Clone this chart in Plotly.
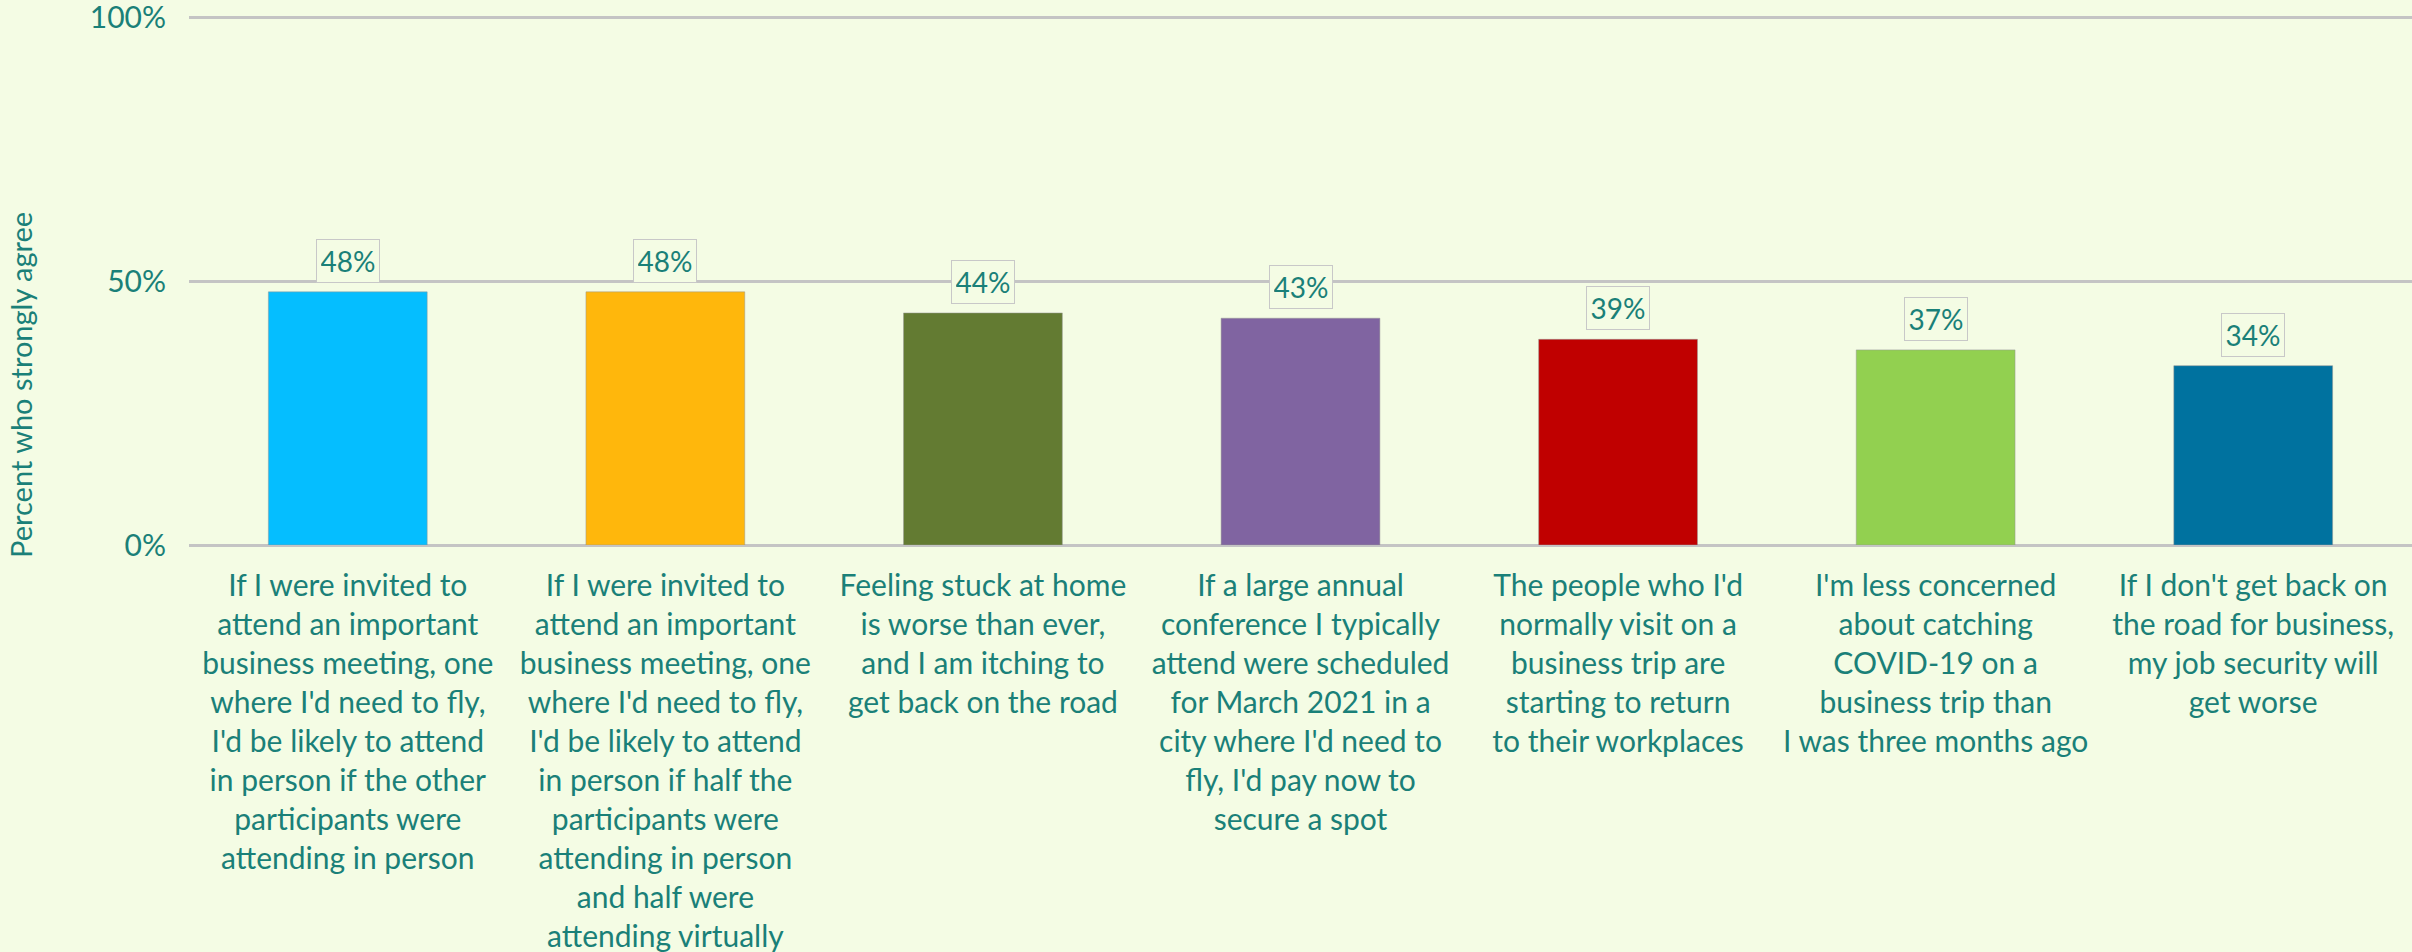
import plotly.graph_objects as go

categories = [
    "If I were invited to<br>attend an important<br>business meeting, one<br>where I'd need to fly,<br>I'd be likely to attend<br>in person if the other<br>participants were<br>attending in person",
    "If I were invited to<br>attend an important<br>business meeting, one<br>where I'd need to fly,<br>I'd be likely to attend<br>in person if half the<br>participants were<br>attending in person<br>and half were<br>attending virtually",
    "Feeling stuck at home<br>is worse than ever,<br>and I am itching to<br>get back on the road",
    "If a large annual<br>conference I typically<br>attend were scheduled<br>for March 2021 in a<br>city where I'd need to<br>fly, I'd pay now to<br>secure a spot",
    "The people who I'd<br>normally visit on a<br>business trip are<br>starting to return<br>to their workplaces",
    "I'm less concerned<br>about catching<br>COVID-19 on a<br>business trip than<br>I was three months ago",
    "If I don't get back on<br>the road for business,<br>my job security will<br>get worse",
]
values = [0.48, 0.48, 0.44, 0.43, 0.39, 0.37, 0.34]
bar_colors = ["#05BEFF", "#FFB70C", "#637B32", "#8064A1", "#C00000", "#92D050", "#00729F"]
y_ticks = [0, 0.5, 1.0]
y_tick_labels = ["0%", "50%", "100%"]
y_title = "Percent who strongly agree"

TEXT = "#1A8078"
BG = "#F4FCE4"
FONT = "Lato"

fig = go.Figure()
fig.add_trace(go.Bar(
    x=list(range(len(categories))),
    y=values,
    marker=dict(color=bar_colors, line=dict(color="rgba(150,150,150,0.5)", width=1)),
    width=0.5,
    hoverinfo="skip",
))

for i, v in enumerate(values):
    fig.add_annotation(
        x=i, y=v, xref="x", yref="y",
        text=f"{round(v*100)}%",
        showarrow=False, yanchor="bottom", yshift=9,
        font=dict(family=FONT, size=28, color=TEXT),
        bgcolor=BG, bordercolor="#C8C8C8", borderwidth=1, borderpad=4,
        width=54, height=34,
    )

fig.add_annotation(
    xref="paper", yref="paper", x=-0.0756, y=0.302,
    text=y_title, textangle=-90, showarrow=False,
    font=dict(family=FONT, size=29, color=TEXT),
    xanchor="center", yanchor="middle",
)

fig.update_layout(
    width=2412, height=952,
    paper_bgcolor=BG, plot_bgcolor=BG,
    margin=dict(l=189, r=0, t=15, b=407),
    showlegend=False,
    bargap=0.5,
    font=dict(family=FONT, color=TEXT),
)
fig.update_xaxes(
    range=[-0.5, len(categories) - 0.5],
    tickmode="array",
    tickvals=list(range(len(categories))),
    ticktext=categories,
    tickangle=0,
    tickfont=dict(family=FONT, size=30, color=TEXT),
    ticklabelstandoff=20,
    showgrid=False, showline=False, zeroline=False,
    automargin=False,
)
fig.update_yaxes(
    range=[0, 1.005],
    tickmode="array",
    tickvals=y_ticks,
    ticktext=y_tick_labels,
    tickfont=dict(family=FONT, size=30, color=TEXT),
    ticklabelstandoff=22,
    ticklabeloverflow="allow",
    showgrid=True, gridcolor="#C4C4C4", gridwidth=3,
    zeroline=True, zerolinecolor="#C4C4C4", zerolinewidth=3,
    showline=False,
    automargin=False,
)

fig.write_html(
    "out.html",
    config={"displayModeBar": False},
    post_script="document.body.style.margin='0';",
)
